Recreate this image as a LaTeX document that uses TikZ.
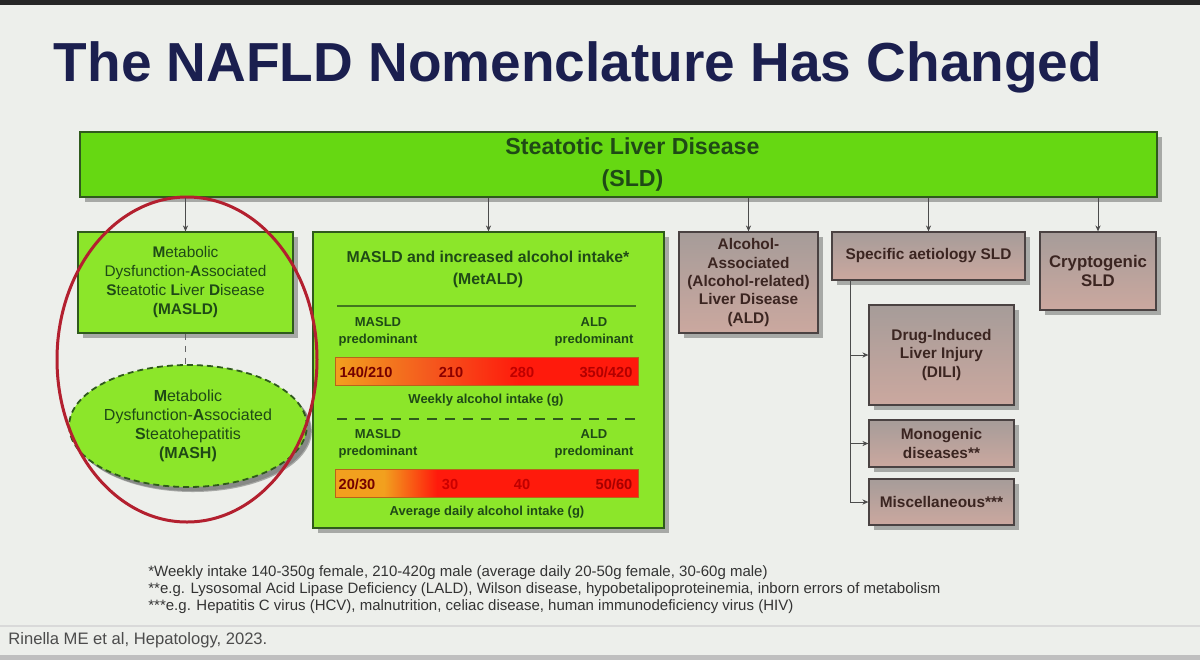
\documentclass[tikz,border=0pt]{standalone}
\usepackage{fontspec}
\setmainfont{Liberation Sans}
\usetikzlibrary{shapes.geometric,shadows,arrows.meta}
\definecolor{slidebg}{HTML}{EDEFEB}
\definecolor{titlenavy}{HTML}{1B1F4F}
\definecolor{sldgreen}{HTML}{66D812}
\definecolor{boxgreen}{HTML}{8CE62A}
\definecolor{edgegreen}{HTML}{2F5A1C}
\definecolor{textgreen}{HTML}{1F4A16}
\definecolor{browntop}{HTML}{A69C99}
\definecolor{brownbot}{HTML}{CBA89F}
\definecolor{edgebrown}{HTML}{4A4242}
\definecolor{textbrown}{HTML}{3B2521}
\definecolor{circlered}{HTML}{B3202F}
\definecolor{barorange}{HTML}{F2A01E}
\definecolor{barmid}{HTML}{F45A1E}
\definecolor{barred}{HTML}{FF1A0C}
\definecolor{baredge}{HTML}{B8641A}

\tikzset{
  boxshadow/.style={drop shadow={shadow xshift=2.5pt,shadow yshift=-2.5pt,opacity=0.4,fill=black!75}},
  greenbox/.style={draw=edgegreen,fill=boxgreen,line width=0.6pt,text=textgreen,align=center,inner sep=0pt,boxshadow},
  brownbox/.style={draw=edgebrown,top color=browntop,bottom color=brownbot,line width=0.6pt,text=textbrown,align=center,inner sep=0pt,font=\bfseries\fontsize{7.7}{9.2}\selectfont,boxshadow},
  barlabel/.style={text=textgreen,font=\bfseries\fontsize{6.5}{8.3}\selectfont,align=center,inner sep=0pt},
  barnum/.style={font=\bfseries\fontsize{7.3}{8}\selectfont,inner sep=0pt},
  link/.style={draw=black!70,line width=0.5pt,-{Stealth[length=3pt,width=2.6pt]}},
  footnote/.style={anchor=west,text=black!80,font=\fontsize{7.5}{8}\selectfont,inner sep=0pt},
}

\begin{document}
\begin{tikzpicture}[x=0.5pt,y=-0.5pt]
\useasboundingbox (0,0) rectangle (1200,660);
% Slide background
\fill[slidebg] (0,0) rectangle (1200,660);
\fill[black!85] (0,0) rectangle (1200,5);
\draw[black!15,line width=0.6pt] (0,626) -- (1200,626);
\fill[black!25] (0,655) rectangle (1200,660);

% Title
\node[text=titlenavy,font=\bfseries\fontsize{27.5}{30}\selectfont] (title) at (578,67) {The NAFLD Nomenclature Has Changed};

% Top box
\node[greenbox,fill=sldgreen,minimum width=538.5pt,minimum height=32.5pt,font=\bfseries\fontsize{11.6}{16}\selectfont] (sld) at (618.5,164.5) {\hspace*{14pt}Steatotic Liver Disease\\\hspace*{14pt}(SLD)};

% Green boxes
\node[greenbox,minimum width=107.5pt,minimum height=50.5pt,font=\fontsize{7.7}{9.5}\selectfont] (masld) at (185.5,282.5)
  {\textbf{M}etabolic\\Dysfunction-\textbf{A}ssociated\\\textbf{S}teatotic \textbf{L}iver \textbf{D}isease\\\textbf{(MASLD)}};
\node[greenbox,ellipse,dashed,dash pattern=on 3pt off 2pt,line width=0.9pt,minimum width=95pt,minimum height=61pt,font=\fontsize{8}{9.6}\selectfont,drop shadow={shadow xshift=2pt,shadow yshift=-2pt,opacity=0.3,fill=black!75}] (mash) at (188,426)
  {\textbf{M}etabolic\\Dysfunction-\textbf{A}ssociated\\\textbf{S}teatohepatitis\\\textbf{(MASH)}};
\node[greenbox,minimum width=175.5pt,minimum height=148pt] (metald) at (488.5,380) {};

% MetALD contents
\node[text=textgreen,font=\bfseries\fontsize{7.9}{11}\selectfont,align=center] (metaldhead) at (488,269) {MASLD and increased alcohol intake*\\(MetALD)};
\draw[edgegreen!80!boxgreen,line width=0.8pt] (337,306) -- (636,306);
\node[barlabel] (wmasld) at (378,332) {MASLD\\predominant};
\node[barlabel] (wald) at (594,332) {ALD\\predominant};
\shade[left color=barorange,right color=barred,middle color=barmid] (335,357) rectangle (520,385);
\fill[barred] (520,357) rectangle (638,385);
\draw[baredge,line width=0.5pt] (335,357) rectangle (638,385);
\node[barnum,text=red!45!black] (w1) at (366,372) {140/210};
\node[barnum,text=red!55!black] (w2) at (451,372) {210};
\node[barnum,text=red!75!black] (w3) at (522,372) {280};
\node[barnum,text=red!70!black] (w4) at (606,372) {350/420};
\node[barlabel] (weekly) at (486,400) {Weekly alcohol intake (g)};
\draw[edgegreen,line width=0.8pt,dash pattern=on 5pt off 4pt] (337,419) -- (636,419);
\node[barlabel] (dmasld) at (378,444) {MASLD\\predominant};
\node[barlabel] (dald) at (594,444) {ALD\\predominant};
\fill[barorange] (335,469) rectangle (384,497);
\shade[left color=barorange,right color=barred] (384,469) rectangle (437,497);
\fill[barred] (437,469) rectangle (638,497);
\draw[baredge,line width=0.5pt] (335,469) rectangle (638,497);
\node[barnum,text=red!45!black] (d1) at (357,484) {20/30};
\node[barnum,text=red!80!black] (d2) at (450,484) {30};
\node[barnum,text=red!75!black] (d3) at (522,484) {40};
\node[barnum,text=red!65!black] (d4) at (614,484) {50/60};
\node[barlabel] (daily) at (487,512) {Average daily alcohol intake (g)};

% Brown boxes
\node[brownbox,minimum width=69.5pt,minimum height=50.5pt] (ald) at (748.5,282.5) {Alcohol-\\Associated\\(Alcohol-related)\\Liver Disease\\(ALD)};
\node[brownbox,minimum width=96.5pt,minimum height=24pt] (spec) at (928.5,256) {Specific aetiology SLD};
\node[brownbox,minimum width=58pt,minimum height=39pt,font=\bfseries\fontsize{8.4}{9.7}\selectfont] (crypto) at (1098,271) {Cryptogenic\\SLD};
\node[brownbox,minimum width=72.5pt,minimum height=50pt] (dili) at (941.5,355) {Drug-Induced\\Liver Injury\\(DILI)};
\node[brownbox,minimum width=72.5pt,minimum height=23.5pt] (mono) at (941.5,443.5) {Monogenic\\diseases**};
\node[brownbox,minimum width=72.5pt,minimum height=23pt] (misc) at (941.5,502) {Miscellaneous***};

% Highlight
\draw[circlered,line width=1.5pt] (187,359.5) ellipse [x radius=65pt,y radius=81.25pt];

% Arrows
\foreach \child in {masld,metald,ald,spec,crypto}
  \draw[link] (sld.south -| \child.north) -- (\child.north);
\draw[black!60,line width=0.5pt,dashed] (masld.south) -- (masld.south |- mash.north);
\coordinate (trunk) at (850,280);
\draw[link] (trunk) |- (misc.west);
\draw[link] (trunk |- dili.west) -- (dili.west);
\draw[link] (trunk |- mono.west) -- (mono.west);

% Footnotes
\node[footnote] (fn1) at (148,573) {*Weekly intake 140-350g female, 210-420g male (average daily 20-50g female, 30-60g male)};
\node[footnote] (fn2) at (148,590) {**e.g. Lysosomal Acid Lipase Deficiency (LALD), Wilson disease, hypobetalipoproteinemia, inborn errors of metabolism};
\node[footnote] (fn3) at (148,607) {***e.g. Hepatitis C virus (HCV), malnutrition, celiac disease, human immunodeficiency virus (HIV)};
\node[anchor=west,text=black!70,font=\fontsize{8.3}{9}\selectfont,inner sep=0pt] (cite) at (8,640) {Rinella ME et al, Hepatology, 2023.};
\end{tikzpicture}
\end{document}
